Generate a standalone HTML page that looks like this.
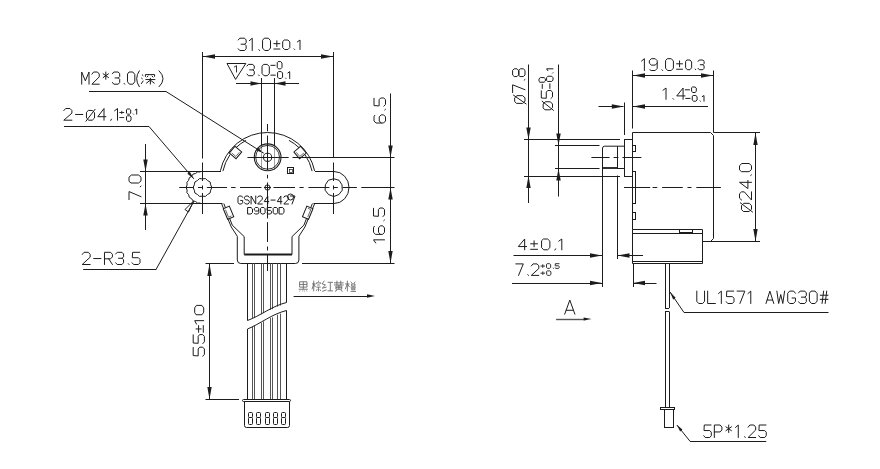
<!DOCTYPE html>
<html><head><meta charset="utf-8"><style>
html,body{margin:0;padding:0;background:#fff;}
svg{display:block;}
text{font-family:"Liberation Sans",sans-serif;stroke:#fff;stroke-width:0.45px;}
</style></head><body>
<svg width="880" height="469" viewBox="0 0 880 469">
<rect width="880" height="469" fill="#fff"/>
<line x1="202.5" y1="52" x2="202.5" y2="158.5" stroke="#1c1c1c" stroke-width="1" />
<line x1="333.5" y1="52" x2="333.5" y2="158" stroke="#1c1c1c" stroke-width="1" />
<line x1="202.5" y1="56.5" x2="333.5" y2="56.5" stroke="#1c1c1c" stroke-width="1" />
<path d="M203,56.5 L215.00,54.30 L215.00,58.70 Z" fill="#1c1c1c" stroke="none"/>
<path d="M333,56.5 L321.00,58.70 L321.00,54.30 Z" fill="#1c1c1c" stroke="none"/>
<path d="M 238.20,39.98 L 239.79,38.20 L 244.55,38.20 L 246.14,39.98 L 246.14,42.71 L 244.69,44.21 L 241.11,44.21 M 244.69,44.21 L 246.14,45.72 L 246.14,48.72 L 244.55,50.50 L 239.79,50.50 L 238.20,48.72 M 249.32,40.66 L 252.23,38.20 L 252.23,50.50 M 258.85,49.68 L 259.51,50.50 M 264.68,38.20 L 268.38,38.20 L 270.50,40.66 L 270.50,48.04 L 268.38,50.50 L 264.68,50.50 L 262.56,48.04 L 262.56,40.66 Z" fill="none" stroke="#1c1c1c" stroke-width="1" stroke-linecap="round" stroke-linejoin="round"/>
<path d="M 276.85,40.75 L 276.85,46.58 M 273.81,43.67 L 279.89,43.67 M 273.81,49.03 L 279.89,49.03" fill="none" stroke="#1c1c1c" stroke-width="1" stroke-linecap="round" stroke-linejoin="round"/>
<path d="M 284.60,40.00 L 287.91,40.00 L 289.81,41.90 L 289.81,47.60 L 287.91,49.50 L 284.60,49.50 L 282.70,47.60 L 282.70,41.90 Z M 294.08,48.87 L 294.67,49.50 M 297.39,41.90 L 300.00,40.00 L 300.00,49.50" fill="none" stroke="#1c1c1c" stroke-width="1" stroke-linecap="round" stroke-linejoin="round"/>
<path d="M227,63.5 L245.8,63.5 L235.6,79.4 Z" fill="none" stroke="#1c1c1c" stroke-width="1" />
<path d="M 234.30,66.96 L 236.50,65.70 L 236.50,72.00" fill="none" stroke="#1c1c1c" stroke-width="0.9" stroke-linecap="round" stroke-linejoin="round"/>
<path d="M 247.00,66.03 L 248.45,64.40 L 252.82,64.40 L 254.27,66.03 L 254.27,68.54 L 252.94,69.92 L 249.67,69.92 M 252.94,69.92 L 254.27,71.31 L 254.27,74.07 L 252.82,75.70 L 248.45,75.70 L 247.00,74.07 M 258.63,74.95 L 259.24,75.70 M 263.97,64.40 L 267.36,64.40 L 269.30,66.66 L 269.30,73.44 L 267.36,75.70 L 263.97,75.70 L 262.03,73.44 L 262.03,66.66 Z" fill="none" stroke="#1c1c1c" stroke-width="1" stroke-linecap="round" stroke-linejoin="round"/>
<path d="M 270.84,65.33 L 275.11,65.33 M 278.52,61.60 L 280.73,61.60 L 282.00,63.06 L 282.00,67.44 L 280.73,68.90 L 278.52,68.90 L 277.25,67.44 L 277.25,63.06 Z" fill="none" stroke="#1c1c1c" stroke-width="1" stroke-linecap="round" stroke-linejoin="round"/>
<path d="M 270.85,75.13 L 275.33,75.13 M 278.90,71.60 L 281.23,71.60 L 282.56,72.98 L 282.56,77.12 L 281.23,78.50 L 278.90,78.50 L 277.58,77.12 L 277.58,72.98 Z M 285.55,78.04 L 285.96,78.50 M 287.87,72.98 L 289.70,71.60 L 289.70,78.50" fill="none" stroke="#1c1c1c" stroke-width="1" stroke-linecap="round" stroke-linejoin="round"/>
<line x1="236" y1="83.5" x2="299" y2="83.5" stroke="#1c1c1c" stroke-width="1" />
<path d="M261.5,83.5 L250.50,85.70 L250.50,81.30 Z" fill="#1c1c1c" stroke="none"/>
<path d="M274.5,83.5 L285.50,81.30 L285.50,85.70 Z" fill="#1c1c1c" stroke="none"/>
<line x1="261.5" y1="78" x2="261.5" y2="146" stroke="#1c1c1c" stroke-width="1" />
<line x1="274.5" y1="78" x2="274.5" y2="146" stroke="#1c1c1c" stroke-width="1" />
<path d="M 81.70,84.20 L 81.70,72.00 L 85.35,80.81 L 89.01,72.00 L 89.01,84.20 M 91.93,74.17 L 93.64,72.00 L 97.53,72.00 L 99.24,74.03 L 99.24,76.88 L 91.93,84.20 L 99.24,84.20 M 105.81,72.00 L 105.81,79.32 M 103.13,73.76 L 108.49,77.56 M 108.49,73.76 L 103.13,77.56 M 112.39,73.76 L 113.85,72.00 L 118.24,72.00 L 119.70,73.76 L 119.70,76.47 L 118.36,77.96 L 115.07,77.96 M 118.36,77.96 L 119.70,79.46 L 119.70,82.44 L 118.24,84.20 L 113.85,84.20 L 112.39,82.44 M 124.08,83.39 L 124.69,84.20 M 129.44,72.00 L 132.85,72.00 L 134.80,74.44 L 134.80,81.76 L 132.85,84.20 L 129.44,84.20 L 127.49,81.76 L 127.49,74.44 Z" fill="none" stroke="#1c1c1c" stroke-width="1" stroke-linecap="round" stroke-linejoin="round"/>
<path d="M 139.30,70.83 Q 136.70,74.58 136.70,78.75 Q 136.70,82.92 139.30,86.67" fill="none" stroke="#1c1c1c" stroke-width="1" stroke-linecap="round" stroke-linejoin="round"/>
<path d="M 159.10,70.83 Q 163.00,74.58 163.00,78.75 Q 163.00,82.92 159.10,86.67" fill="none" stroke="#1c1c1c" stroke-width="1" stroke-linecap="round" stroke-linejoin="round"/>
<line x1="89" y1="91.5" x2="166" y2="91.5" stroke="#1c1c1c" stroke-width="1" />
<line x1="166" y1="91.5" x2="263.7" y2="153.2" stroke="#1c1c1c" stroke-width="1" />
<path d="M263.7,153.2 L256.08,150.28 L257.79,147.58 Z" fill="#1c1c1c" stroke="none"/>
<path d="M 63.80,110.58 L 65.69,108.50 L 70.01,108.50 L 71.90,110.45 L 71.90,113.18 L 63.80,120.20 L 71.90,120.20 M 75.54,114.48 L 82.82,114.48 M 88.76,110.45 L 92.27,110.45 L 94.56,112.66 L 94.56,117.99 L 92.27,120.20 L 88.76,120.20 L 86.47,117.99 L 86.47,112.66 Z M 85.93,121.24 L 95.10,109.28 M 104.01,120.20 L 104.01,108.50 L 97.80,116.69 L 105.90,116.69 M 111.43,119.16 L 110.75,120.46 M 114.53,110.84 L 117.50,108.50 L 117.50,120.20" fill="none" stroke="#1c1c1c" stroke-width="1" stroke-linecap="round" stroke-linejoin="round"/>
<path d="M 121.75,111.30 L 121.75,113.70 M 119.72,112.50 L 123.78,112.50" fill="none" stroke="#1c1c1c" stroke-width="0.9" stroke-linecap="round" stroke-linejoin="round"/>
<path d="M 119.72,117.54 L 123.78,117.54" fill="none" stroke="#1c1c1c" stroke-width="0.9" stroke-linecap="round" stroke-linejoin="round"/>
<path d="M 127.62,109.00 L 129.57,109.00 L 130.69,110.04 L 130.69,113.16 L 129.57,114.20 L 127.62,114.20 L 126.50,113.16 L 126.50,110.04 Z M 133.21,113.85 L 133.56,114.20 M 135.16,110.04 L 136.70,109.00 L 136.70,114.20" fill="none" stroke="#1c1c1c" stroke-width="1" stroke-linecap="round" stroke-linejoin="round"/>
<path d="M 127.70,115.80 L 129.80,115.80 L 131.00,116.90 L 131.00,120.20 L 129.80,121.30 L 127.70,121.30 L 126.50,120.20 L 126.50,116.90 Z" fill="none" stroke="#1c1c1c" stroke-width="1" stroke-linecap="round" stroke-linejoin="round"/>
<line x1="64" y1="126.5" x2="149" y2="126.5" stroke="#1c1c1c" stroke-width="1" />
<line x1="149" y1="126.5" x2="193.8" y2="178.8" stroke="#1c1c1c" stroke-width="1" />
<path d="M193.8,178.8 L187.38,173.77 L189.81,171.68 Z" fill="#1c1c1c" stroke="none"/>
<line x1="145.5" y1="144" x2="145.5" y2="230" stroke="#1c1c1c" stroke-width="1" />
<path d="M145.5,171.5 L143.30,159.50 L147.70,159.50 Z" fill="#1c1c1c" stroke="none"/>
<path d="M145.5,203.5 L147.70,215.50 L143.30,215.50 Z" fill="#1c1c1c" stroke="none"/>
<path d="M 129.00,199.60 L 129.00,191.58 L 141.00,196.66 M 140.20,186.77 L 141.00,186.10 M 129.00,180.88 L 129.00,177.14 L 131.40,175.00 L 138.60,175.00 L 141.00,177.14 L 141.00,180.88 L 138.60,183.02 L 131.40,183.02 Z" fill="none" stroke="#1c1c1c" stroke-width="1" stroke-linecap="round" stroke-linejoin="round"/>
<path d="M 82.20,254.47 L 84.06,252.30 L 88.30,252.30 L 90.15,254.33 L 90.15,257.18 L 82.20,264.50 L 90.15,264.50 M 93.73,258.54 L 100.89,258.54 M 104.47,264.50 L 104.47,252.30 L 110.57,252.30 L 112.43,254.33 L 112.43,256.91 L 110.57,258.81 L 104.47,258.81 M 108.71,258.81 L 112.43,264.50 M 115.61,254.06 L 117.20,252.30 L 121.97,252.30 L 123.56,254.06 L 123.56,256.77 L 122.10,258.26 L 118.52,258.26 M 122.10,258.26 L 123.56,259.76 L 123.56,262.74 L 121.97,264.50 L 117.20,264.50 L 115.61,262.74 M 128.33,263.69 L 129.00,264.50 M 139.73,252.30 L 132.58,252.30 L 132.31,257.72 L 138.41,257.72 L 140.00,259.35 L 140.00,262.74 L 138.41,264.50 L 133.64,264.50 L 132.05,262.74" fill="none" stroke="#1c1c1c" stroke-width="1" stroke-linecap="round" stroke-linejoin="round"/>
<line x1="83.2" y1="269.5" x2="156.3" y2="269.5" stroke="#1c1c1c" stroke-width="1" />
<line x1="156" y1="269.5" x2="193.5" y2="202" stroke="#1c1c1c" stroke-width="1" />
<path d="M193.5,201 L188.5,212 L185,209.5 Z" fill="none" stroke="#1c1c1c" stroke-width="1" />
<path d="M220.42,170.76 A48.1,48.1 0 0 1 314.62,170.93" fill="none" stroke="#1c1c1c" stroke-width="1" />
<path d="M222.90,171.12 A45.6,45.6 0 0 1 230.15,154.44" fill="none" stroke="#1c1c1c" stroke-width="1" />
<path d="M235.82,147.80 A45.6,45.6 0 0 1 246.09,140.34" fill="none" stroke="#1c1c1c" stroke-width="1" />
<path d="M288.91,140.34 A45.6,45.6 0 0 1 299.18,147.80" fill="none" stroke="#1c1c1c" stroke-width="1" />
<path d="M304.85,154.44 A45.6,45.6 0 0 1 312.10,171.12" fill="none" stroke="#1c1c1c" stroke-width="1" />
<line x1="140" y1="171.5" x2="221" y2="171.5" stroke="#1c1c1c" stroke-width="1" />
<line x1="315" y1="171.5" x2="334" y2="171.5" stroke="#1c1c1c" stroke-width="1" />
<line x1="140" y1="203.5" x2="222.5" y2="203.5" stroke="#1c1c1c" stroke-width="1" />
<line x1="313.5" y1="203.5" x2="334" y2="203.5" stroke="#1c1c1c" stroke-width="1" />
<path d="M200.33,172.03 L197.67,171.83 L195.60,173.49 L193.02,174.12 L191.56,176.35 L189.31,177.76 L188.62,180.33 L186.92,182.37 L187.08,185.03 L186.10,187.50 L187.08,189.97 L186.92,192.63 L188.62,194.67 L189.31,197.24 L191.56,198.65 L193.02,200.88 L195.60,201.51 L197.67,203.17 L200.33,202.97" fill="none" stroke="#1c1c1c" stroke-width="1"/>
<path d="M334,171.5 A15,16 0 0 1 334,203.5" fill="none" stroke="#1c1c1c" stroke-width="1" />
<path d="M202.50,178.88 L205.40,178.56 L207.57,180.53 L210.10,181.97 L210.70,184.84 L211.90,187.50 L210.70,190.16 L210.10,193.03 L207.57,194.47 L205.40,196.44 L202.50,196.12 L199.60,196.44 L197.43,194.47 L194.90,193.03 L194.30,190.16 L193.10,187.50 L194.30,184.84 L194.90,181.97 L197.43,180.53 L199.60,178.56 L202.50,178.88 Z" fill="none" stroke="#1c1c1c" stroke-width="1"/>
<path d="M333.70,178.76 L338.99,180.22 L342.01,184.80 L342.26,190.28 L338.84,194.57 L333.70,196.50 L328.56,194.57 L325.14,190.28 L325.39,184.80 L328.41,180.22 L333.70,178.76 Z" fill="none" stroke="#1c1c1c" stroke-width="1"/>
<path d="M221.5,203.5 L231.3,227 L237.3,236.3 L237.3,260" fill="none" stroke="#1c1c1c" stroke-width="1" />
<path d="M314.70000000000005,203.5 L304.90000000000003,227 L298.90000000000003,236.3 L298.90000000000003,260" fill="none" stroke="#1c1c1c" stroke-width="1" />
<path d="M223.8,203.5 L232.3,225.2 L244.2,236.6 L244.2,254.5" fill="none" stroke="#1c1c1c" stroke-width="1" />
<path d="M312.40000000000003,203.5 L303.90000000000003,225.2 L292.00000000000006,236.6 L292.00000000000006,254.5" fill="none" stroke="#1c1c1c" stroke-width="1" />
<path d="M237.3,260 Q237.3,263.5 240.8,263.5 L295.4,263.5 Q298.9,263.5 298.9,260" fill="none" stroke="#1c1c1c" stroke-width="1" />
<line x1="244.2" y1="254.5" x2="292" y2="254.5" stroke="#1c1c1c" stroke-width="2" />
<g transform="translate(235.50,152.50) rotate(40)"><rect x="-4.4" y="-4.4" width="8.8" height="8.8" fill="#fff" stroke="#1c1c1c" stroke-width="1"/><path d="M-2.6000000000000005,2.8000000000000003 L2.8000000000000003,2.8000000000000003 L2.8000000000000003,-2.6000000000000005" fill="none" stroke="#555" stroke-width="0.8"/></g>
<g transform="translate(300.10,152.50) rotate(50)"><rect x="-4.4" y="-4.4" width="8.8" height="8.8" fill="#fff" stroke="#1c1c1c" stroke-width="1"/><path d="M-2.6000000000000005,2.8000000000000003 L2.8000000000000003,2.8000000000000003 L2.8000000000000003,-2.6000000000000005" fill="none" stroke="#555" stroke-width="0.8"/></g>
<g transform="translate(228.50,212.70) rotate(67.5)"><rect x="-5.75" y="-3.3" width="11.5" height="6.6" fill="#fff" stroke="#1c1c1c" stroke-width="1"/><path d="M-3.95,1.6999999999999997 L4.15,1.6999999999999997 L4.15,-1.4999999999999998" fill="none" stroke="#555" stroke-width="0.8"/></g>
<g transform="translate(307.70,212.70) rotate(-67.5)"><rect x="-5.75" y="-3.3" width="11.5" height="6.6" fill="#fff" stroke="#1c1c1c" stroke-width="1"/><path d="M-3.95,1.6999999999999997 L4.15,1.6999999999999997 L4.15,-1.4999999999999998" fill="none" stroke="#555" stroke-width="0.8"/></g>
<line x1="261.5" y1="78" x2="261.5" y2="145" stroke="#1c1c1c" stroke-width="1" />
<line x1="274.5" y1="78" x2="274.5" y2="145" stroke="#1c1c1c" stroke-width="1" />
<line x1="261.5" y1="145" x2="261.5" y2="170" stroke="#888" stroke-width="0.8" />
<line x1="274.5" y1="145" x2="274.5" y2="170" stroke="#888" stroke-width="0.8" />
<circle cx="267.6" cy="157.3" r="13.4" fill="none" stroke="#1c1c1c" stroke-width="1.1" />
<circle cx="267.6" cy="157.3" r="11.9" fill="none" stroke="#1c1c1c" stroke-width="0.9" />
<circle cx="267.6" cy="157.3" r="4.1" fill="none" stroke="#1c1c1c" stroke-width="1" />
<line x1="247.4" y1="157.5" x2="288.7" y2="157.5" stroke="#1c1c1c" stroke-width="1" />
<line x1="292.5" y1="157.5" x2="394.5" y2="157.5" stroke="#1c1c1c" stroke-width="1" />
<line x1="267.5" y1="124" x2="267.5" y2="131.3" stroke="#1c1c1c" stroke-width="1" />
<line x1="267.5" y1="135.5" x2="267.5" y2="170" stroke="#1c1c1c" stroke-width="1" />
<line x1="267.5" y1="174.8" x2="267.5" y2="178.4" stroke="#1c1c1c" stroke-width="1" />
<line x1="267.5" y1="182.5" x2="267.5" y2="218.5" stroke="#1c1c1c" stroke-width="1" />
<line x1="267.5" y1="222.2" x2="267.5" y2="242" stroke="#1c1c1c" stroke-width="1" />
<line x1="267.5" y1="246.5" x2="267.5" y2="250.5" stroke="#1c1c1c" stroke-width="1" />
<line x1="267.5" y1="254.5" x2="267.5" y2="271" stroke="#1c1c1c" stroke-width="1" />
<line x1="179.2" y1="187.5" x2="193.8" y2="187.5" stroke="#1c1c1c" stroke-width="1" />
<line x1="198" y1="187.5" x2="202.8" y2="187.5" stroke="#1c1c1c" stroke-width="1" />
<line x1="206.9" y1="187.5" x2="227" y2="187.5" stroke="#1c1c1c" stroke-width="1" />
<line x1="231.1" y1="187.5" x2="235.6" y2="187.5" stroke="#1c1c1c" stroke-width="1" />
<line x1="240" y1="187.5" x2="261.5" y2="187.5" stroke="#1c1c1c" stroke-width="1" />
<line x1="264" y1="187.5" x2="271" y2="187.5" stroke="#1c1c1c" stroke-width="1" />
<line x1="273.5" y1="187.5" x2="295" y2="187.5" stroke="#1c1c1c" stroke-width="1" />
<line x1="299.4" y1="187.5" x2="303.7" y2="187.5" stroke="#1c1c1c" stroke-width="1" />
<line x1="308.4" y1="187.5" x2="329.4" y2="187.5" stroke="#1c1c1c" stroke-width="1" />
<line x1="333" y1="187.5" x2="337.8" y2="187.5" stroke="#1c1c1c" stroke-width="1" />
<line x1="342.6" y1="187.5" x2="356.9" y2="187.5" stroke="#1c1c1c" stroke-width="1" />
<line x1="361.3" y1="187.5" x2="394.5" y2="187.5" stroke="#1c1c1c" stroke-width="1" />
<line x1="202.5" y1="162.5" x2="202.5" y2="181" stroke="#1c1c1c" stroke-width="1" />
<line x1="202.5" y1="185.5" x2="202.5" y2="189.5" stroke="#1c1c1c" stroke-width="1" />
<line x1="202.5" y1="193" x2="202.5" y2="214" stroke="#1c1c1c" stroke-width="1" />
<line x1="333.5" y1="162.5" x2="333.5" y2="181" stroke="#1c1c1c" stroke-width="1" />
<line x1="333.5" y1="185.5" x2="333.5" y2="189.5" stroke="#1c1c1c" stroke-width="1" />
<line x1="333.5" y1="193" x2="333.5" y2="214" stroke="#1c1c1c" stroke-width="1" />
<circle cx="267.5" cy="187.5" r="2.6" fill="none" stroke="#1c1c1c" stroke-width="1" />
<rect x="287.5" y="167.5" width="6.0" height="6.0" rx="0" fill="none" stroke="#1c1c1c" stroke-width="1" />
<rect x="289.5" y="169.5" width="3.0" height="3.0" rx="0" fill="none" stroke="#1c1c1c" stroke-width="0.7" />
<circle cx="290.5" cy="197" r="3" fill="none" stroke="#1c1c1c" stroke-width="1" />
<path d="M 242.67,197.42 L 241.58,196.00 L 239.17,196.00 L 238.00,197.42 L 238.00,202.58 L 239.17,204.00 L 241.50,204.00 L 242.67,202.58 L 242.67,200.44 L 240.65,200.44 M 249.21,197.33 L 248.12,196.00 L 245.63,196.00 L 244.54,197.33 L 244.54,198.76 L 245.63,199.91 L 248.12,199.91 L 249.21,201.16 L 249.21,202.67 L 248.12,204.00 L 245.63,204.00 L 244.54,202.67 M 251.08,204.00 L 251.08,196.00 L 255.75,204.00 L 255.75,196.00 M 257.62,197.42 L 258.71,196.00 L 261.20,196.00 L 262.30,197.33 L 262.30,199.20 L 257.62,204.00 L 262.30,204.00 M 267.75,204.00 L 267.75,196.00 L 264.16,201.60 L 268.84,201.60 M 270.94,200.09 L 275.14,200.09 M 280.83,204.00 L 280.83,196.00 L 277.25,201.60 L 281.92,201.60 M 283.79,197.42 L 284.88,196.00 L 287.37,196.00 L 288.46,197.33 L 288.46,199.20 L 283.79,204.00 L 288.46,204.00 M 290.33,196.00 L 295.00,196.00 L 292.04,204.00" fill="none" stroke="#1c1c1c" stroke-width="1" stroke-linecap="round" stroke-linejoin="round"/>
<path d="M 248.00,207.50 L 251.00,207.50 L 252.50,208.94 L 252.50,212.56 L 251.00,214.00 L 248.00,214.00 Z M 254.60,213.57 L 255.35,214.00 L 257.68,214.00 L 258.80,212.84 L 258.80,208.58 L 257.68,207.50 L 255.43,207.50 L 254.30,208.58 L 254.30,209.96 L 255.43,211.04 L 257.68,211.04 L 258.80,209.96 M 261.80,207.50 L 263.90,207.50 L 265.10,208.80 L 265.10,212.70 L 263.90,214.00 L 261.80,214.00 L 260.60,212.70 L 260.60,208.80 Z M 271.25,207.50 L 267.20,207.50 L 267.05,210.39 L 270.50,210.39 L 271.40,211.26 L 271.40,213.06 L 270.50,214.00 L 267.80,214.00 L 266.90,213.06 M 274.40,207.50 L 276.50,207.50 L 277.70,208.80 L 277.70,212.70 L 276.50,214.00 L 274.40,214.00 L 273.20,212.70 L 273.20,208.80 Z M 279.50,207.50 L 282.50,207.50 L 284.00,208.94 L 284.00,212.56 L 282.50,214.00 L 279.50,214.00 Z" fill="none" stroke="#1c1c1c" stroke-width="1" stroke-linecap="round" stroke-linejoin="round"/>
<line x1="390.5" y1="93.5" x2="390.5" y2="263" stroke="#1c1c1c" stroke-width="1" />
<path d="M390.5,157.5 L388.30,145.50 L392.70,145.50 Z" fill="#1c1c1c" stroke="none"/>
<path d="M390.5,187.5 L392.70,199.50 L388.30,199.50 Z" fill="#1c1c1c" stroke="none"/>
<path d="M390.5,263 L388.30,251.00 L392.70,251.00 Z" fill="#1c1c1c" stroke="none"/>
<line x1="302" y1="263.5" x2="394.5" y2="263.5" stroke="#1c1c1c" stroke-width="1" />
<line x1="205.5" y1="263.5" x2="234" y2="263.5" stroke="#1c1c1c" stroke-width="1" />
<path d="M 374.77,115.39 L 374.00,116.75 L 374.00,120.96 L 376.04,123.00 L 383.58,123.00 L 385.50,120.96 L 385.50,116.89 L 383.58,114.85 L 381.16,114.85 L 379.24,116.89 L 379.24,120.96 L 381.16,123.00 M 384.73,109.96 L 385.50,109.28 M 374.00,98.27 L 374.00,105.61 L 379.11,105.88 L 379.11,99.63 L 380.64,98.00 L 383.84,98.00 L 385.50,99.63 L 385.50,104.52 L 383.84,106.15" fill="none" stroke="#1c1c1c" stroke-width="1" stroke-linecap="round" stroke-linejoin="round"/>
<path d="M 375.70,243.00 L 373.50,239.84 L 384.50,239.84 M 374.23,226.36 L 373.50,227.80 L 373.50,232.24 L 375.46,234.39 L 382.67,234.39 L 384.50,232.24 L 384.50,227.94 L 382.67,225.79 L 380.34,225.79 L 378.51,227.94 L 378.51,232.24 L 380.34,234.39 M 383.77,220.62 L 384.50,219.91 M 373.50,208.29 L 373.50,216.03 L 378.39,216.32 L 378.39,209.72 L 379.86,208.00 L 382.91,208.00 L 384.50,209.72 L 384.50,214.89 L 382.91,216.61" fill="none" stroke="#1c1c1c" stroke-width="1" stroke-linecap="round" stroke-linejoin="round"/>
<line x1="209.5" y1="264" x2="209.5" y2="399" stroke="#1c1c1c" stroke-width="1" />
<path d="M209.5,264 L211.70,276.00 L207.30,276.00 Z" fill="#1c1c1c" stroke="none"/>
<path d="M209.5,399 L207.30,387.00 L211.70,387.00 Z" fill="#1c1c1c" stroke="none"/>
<line x1="205.5" y1="399.5" x2="239" y2="399.5" stroke="#1c1c1c" stroke-width="1" />
<path d="M 193.20,347.50 L 193.20,355.60 L 198.18,355.90 L 198.18,349.00 L 199.67,347.20 L 202.78,347.20 L 204.40,349.00 L 204.40,354.40 L 202.78,356.20 M 193.20,334.90 L 193.20,343.00 L 198.18,343.30 L 198.18,336.40 L 199.67,334.60 L 202.78,334.60 L 204.40,336.40 L 204.40,341.80 L 202.78,343.60" fill="none" stroke="#1c1c1c" stroke-width="1" stroke-linecap="round" stroke-linejoin="round"/>
<path d="M 196.03,328.95 L 201.14,328.95 M 198.59,332.32 L 198.59,325.57 M 203.29,332.32 L 203.29,325.57" fill="none" stroke="#1c1c1c" stroke-width="1" stroke-linecap="round" stroke-linejoin="round"/>
<path d="M 196.50,324.10 L 194.70,320.67 L 203.70,320.67 M 194.70,312.26 L 194.70,307.89 L 196.50,305.40 L 201.90,305.40 L 203.70,307.89 L 203.70,312.26 L 201.90,314.75 L 196.50,314.75 Z" fill="none" stroke="#1c1c1c" stroke-width="1" stroke-linecap="round" stroke-linejoin="round"/>
<line x1="247.5" y1="263.5" x2="247.5" y2="320.5" stroke="#1c1c1c" stroke-width="1" />
<line x1="247.5" y1="329.0" x2="247.5" y2="399.5" stroke="#1c1c1c" stroke-width="1" />
<line x1="252.5" y1="263.5" x2="252.5" y2="318.1923076923077" stroke="#555" stroke-width="1" />
<line x1="252.5" y1="326.62820512820514" x2="252.5" y2="399.5" stroke="#555" stroke-width="1" />
<line x1="254.5" y1="263.5" x2="254.5" y2="317.2692307692308" stroke="#555" stroke-width="1" />
<line x1="254.5" y1="325.6794871794872" x2="254.5" y2="399.5" stroke="#555" stroke-width="1" />
<line x1="261.5" y1="263.5" x2="261.5" y2="314.2692307692308" stroke="#555" stroke-width="1" />
<line x1="261.5" y1="322.59615384615387" x2="261.5" y2="399.5" stroke="#555" stroke-width="1" />
<line x1="263.5" y1="263.5" x2="263.5" y2="313.11538461538464" stroke="#555" stroke-width="1" />
<line x1="263.5" y1="321.4102564102564" x2="263.5" y2="399.5" stroke="#555" stroke-width="1" />
<line x1="270.5" y1="263.5" x2="270.5" y2="309.88461538461536" stroke="#555" stroke-width="1" />
<line x1="270.5" y1="318.0897435897436" x2="270.5" y2="399.5" stroke="#555" stroke-width="1" />
<line x1="272.5" y1="263.5" x2="272.5" y2="309.1923076923077" stroke="#555" stroke-width="1" />
<line x1="272.5" y1="317.37820512820514" x2="272.5" y2="399.5" stroke="#555" stroke-width="1" />
<line x1="277.5" y1="263.5" x2="277.5" y2="306.65384615384613" stroke="#555" stroke-width="1" />
<line x1="277.5" y1="314.7692307692308" x2="277.5" y2="399.5" stroke="#555" stroke-width="1" />
<line x1="280.5" y1="263.5" x2="280.5" y2="305.5" stroke="#555" stroke-width="1" />
<line x1="280.5" y1="313.5833333333333" x2="280.5" y2="399.5" stroke="#555" stroke-width="1" />
<line x1="286.5" y1="263.5" x2="286.5" y2="302.5" stroke="#1c1c1c" stroke-width="1" />
<line x1="286.5" y1="310.5" x2="286.5" y2="399.5" stroke="#1c1c1c" stroke-width="1" />
<path d="M247.5,320.5 C260,316 272,306 286.5,302.5" fill="none" stroke="#1c1c1c" stroke-width="1" />
<path d="M247.5,329 C260,324 272,314 286.5,310.5" fill="none" stroke="#1c1c1c" stroke-width="1" />
<rect x="242.5" y="399.5" width="48.0" height="2.0" rx="1" fill="none" stroke="#1c1c1c" stroke-width="1" />
<path d="M244.5,401.7 L244.5,425.5 Q244.5,427.5 246.5,427.5 L287.5,427.5 Q289.5,427.5 289.5,425.5 L289.5,401.7" fill="none" stroke="#1c1c1c" stroke-width="1" />
<rect x="248.5" y="412.5" width="4.0" height="5.0" rx="1" fill="none" stroke="#1c1c1c" stroke-width="1" />
<rect x="248.5" y="417.5" width="4.0" height="7.0" rx="1" fill="none" stroke="#1c1c1c" stroke-width="1" />
<rect x="256.5" y="412.5" width="4.0" height="5.0" rx="1" fill="none" stroke="#1c1c1c" stroke-width="1" />
<rect x="256.5" y="417.5" width="4.0" height="7.0" rx="1" fill="none" stroke="#1c1c1c" stroke-width="1" />
<rect x="265.5" y="412.5" width="4.0" height="5.0" rx="1" fill="none" stroke="#1c1c1c" stroke-width="1" />
<rect x="265.5" y="417.5" width="4.0" height="7.0" rx="1" fill="none" stroke="#1c1c1c" stroke-width="1" />
<rect x="273.5" y="412.5" width="4.0" height="5.0" rx="1" fill="none" stroke="#1c1c1c" stroke-width="1" />
<rect x="273.5" y="417.5" width="4.0" height="7.0" rx="1" fill="none" stroke="#1c1c1c" stroke-width="1" />
<rect x="281.5" y="412.5" width="4.0" height="5.0" rx="1" fill="none" stroke="#1c1c1c" stroke-width="1" />
<rect x="281.5" y="417.5" width="4.0" height="7.0" rx="1" fill="none" stroke="#1c1c1c" stroke-width="1" />
<path d="M 299.62,281.77 L 306.98,281.77 L 306.98,287.12 L 299.62,287.12 Z M 303.30,281.77 L 303.30,289.26 M 299.62,284.44 L 306.98,284.44 M 298.70,289.26 L 307.90,289.26 M 300.08,290.54 L 299.62,291.40 M 302.38,290.54 L 302.66,291.40 M 304.22,290.54 L 304.50,291.40 M 306.52,290.54 L 306.98,291.40" fill="none" stroke="#6a6a6a" stroke-width="0.9"/>
<path d="M 312.00,283.91 L 315.48,283.91 M 313.74,280.70 L 313.74,291.40 M 313.74,283.91 L 312.00,289.26 M 313.74,283.91 L 315.48,287.12 M 318.52,280.70 L 318.52,281.77 M 316.35,283.91 L 316.35,282.84 L 320.70,282.84 L 320.70,283.91 M 317.22,284.98 L 319.83,284.98 M 316.35,287.12 L 320.70,287.12 M 318.52,287.12 L 318.52,291.40 M 317.22,289.26 L 316.35,290.87 M 319.83,289.26 L 320.70,290.87" fill="none" stroke="#6a6a6a" stroke-width="0.9"/>
<path d="M 324.36,280.70 L 322.20,283.91 L 325.44,284.98 L 322.20,288.19 L 326.52,287.12 M 322.20,291.40 L 326.52,289.79 M 327.60,282.31 L 333.00,282.31 M 330.30,282.31 L 330.30,290.87 M 327.60,290.87 L 333.00,290.87" fill="none" stroke="#6a6a6a" stroke-width="0.9"/>
<path d="M 334.00,282.84 L 343.70,282.84 M 336.91,280.70 L 336.91,284.98 M 340.79,280.70 L 340.79,284.98 M 334.00,284.98 L 343.70,284.98 M 335.94,286.05 L 341.76,286.05 L 341.76,289.26 L 335.94,289.26 Z M 335.94,287.65 L 341.76,287.65 M 338.85,284.98 L 338.85,289.26 M 336.91,290.33 L 334.97,291.40 M 340.79,290.33 L 342.73,291.40" fill="none" stroke="#6a6a6a" stroke-width="0.9"/>
<path d="M 345.20,283.91 L 349.52,283.91 M 347.36,280.70 L 347.36,291.40 M 347.36,283.91 L 345.20,289.26 M 347.36,283.91 L 349.52,287.12 M 350.60,281.77 L 352.22,283.38 M 355.46,281.77 L 353.84,283.38 M 351.68,283.91 L 354.92,283.91 L 354.92,286.05 L 351.68,286.05 Z M 350.60,287.12 L 356.00,287.12 M 351.68,288.19 L 354.92,288.19 L 354.92,289.79 L 351.68,289.79 Z M 350.60,291.40 L 356.00,291.40" fill="none" stroke="#6a6a6a" stroke-width="0.9"/>
<path d="M 141.91,74.60 L 143.31,75.70 M 141.20,77.90 L 142.61,79.00 M 141.20,83.95 L 143.31,80.65 M 145.43,76.80 L 145.43,74.60 L 154.59,74.60 L 154.59,76.80 M 148.25,75.70 L 146.84,77.35 M 151.77,75.70 L 153.19,77.35 M 145.43,79.55 L 155.30,79.55 M 150.36,77.90 L 150.36,84.50 M 150.36,80.10 L 146.13,83.40 M 150.36,80.10 L 154.59,83.40" fill="none" stroke="#1c1c1c" stroke-width="1"/>
<line x1="293.6" y1="296.5" x2="370" y2="296.5" stroke="#1c1c1c" stroke-width="1" />
<path d="M375,296 L367.00,297.80 L367.00,294.20 Z" fill="#1c1c1c" stroke="none"/>
<line x1="632.5" y1="70.5" x2="632.5" y2="128.5" stroke="#1c1c1c" stroke-width="1" />
<line x1="713.5" y1="70.5" x2="713.5" y2="132.5" stroke="#1c1c1c" stroke-width="1" />
<line x1="632.5" y1="75.5" x2="713.5" y2="75.5" stroke="#1c1c1c" stroke-width="1" />
<path d="M633,75.5 L645.00,73.30 L645.00,77.70 Z" fill="#1c1c1c" stroke="none"/>
<path d="M713,75.5 L701.00,77.70 L701.00,73.30 Z" fill="#1c1c1c" stroke="none"/>
<path d="M 641.50,61.06 L 644.38,58.70 L 644.38,70.50 M 649.87,69.71 L 651.17,70.50 L 655.23,70.50 L 657.19,68.40 L 657.19,60.67 L 655.23,58.70 L 651.31,58.70 L 649.34,60.67 L 649.34,63.16 L 651.31,65.12 L 655.23,65.12 L 657.19,63.16 M 661.90,69.71 L 662.55,70.50 M 667.65,58.70 L 671.31,58.70 L 673.40,61.06 L 673.40,68.14 L 671.31,70.50 L 667.65,70.50 L 665.56,68.14 L 665.56,61.06 Z" fill="none" stroke="#1c1c1c" stroke-width="1" stroke-linecap="round" stroke-linejoin="round"/>
<path d="M 679.55,60.87 L 679.55,66.76 M 676.59,63.81 L 682.51,63.81 M 676.59,69.23 L 682.51,69.23" fill="none" stroke="#1c1c1c" stroke-width="1" stroke-linecap="round" stroke-linejoin="round"/>
<path d="M 687.21,60.00 L 690.02,60.00 L 691.63,61.94 L 691.63,67.76 L 690.02,69.70 L 687.21,69.70 L 685.60,67.76 L 685.60,61.94 Z M 695.25,69.05 L 695.75,69.70 M 698.07,61.40 L 699.27,60.00 L 702.89,60.00 L 704.10,61.40 L 704.10,63.56 L 702.99,64.74 L 700.28,64.74 M 702.99,64.74 L 704.10,65.93 L 704.10,68.30 L 702.89,69.70 L 699.27,69.70 L 698.07,68.30" fill="none" stroke="#1c1c1c" stroke-width="1" stroke-linecap="round" stroke-linejoin="round"/>
<line x1="598.5" y1="106.5" x2="623.5" y2="106.5" stroke="#1c1c1c" stroke-width="1" />
<path d="M623.8,106.5 L611.80,108.70 L611.80,104.30 Z" fill="#1c1c1c" stroke="none"/>
<line x1="633" y1="106.5" x2="708" y2="106.5" stroke="#1c1c1c" stroke-width="1" />
<path d="M633,106.5 L645.00,104.30 L645.00,108.70 Z" fill="#1c1c1c" stroke="none"/>
<line x1="624.5" y1="102.5" x2="624.5" y2="135" stroke="#1c1c1c" stroke-width="1" />
<path d="M 663.00,90.26 L 666.02,88.00 L 666.02,99.30 M 672.90,98.55 L 673.59,99.30 M 683.08,99.30 L 683.08,88.00 L 676.75,95.91 L 685.00,95.91" fill="none" stroke="#1c1c1c" stroke-width="1" stroke-linecap="round" stroke-linejoin="round"/>
<path d="M 685.24,89.81 L 689.47,89.81 M 692.85,87.00 L 695.04,87.00 L 696.30,88.10 L 696.30,91.40 L 695.04,92.50 L 692.85,92.50 L 691.59,91.40 L 691.59,88.10 Z" fill="none" stroke="#1c1c1c" stroke-width="1" stroke-linecap="round" stroke-linejoin="round"/>
<path d="M 685.74,98.41 L 690.08,98.41 M 693.54,95.50 L 695.80,95.50 L 697.08,96.64 L 697.08,100.06 L 695.80,101.20 L 693.54,101.20 L 692.26,100.06 L 692.26,96.64 Z M 699.98,100.82 L 700.38,101.20 M 702.23,96.64 L 704.00,95.50 L 704.00,101.20" fill="none" stroke="#1c1c1c" stroke-width="1" stroke-linecap="round" stroke-linejoin="round"/>
<line x1="528.5" y1="64.5" x2="528.5" y2="203" stroke="#1c1c1c" stroke-width="1" />
<path d="M528.5,139.5 L526.30,127.50 L530.70,127.50 Z" fill="#1c1c1c" stroke="none"/>
<path d="M528.5,176 L530.70,188.00 L526.30,188.00 Z" fill="#1c1c1c" stroke="none"/>
<line x1="524" y1="139.5" x2="620" y2="139.5" stroke="#1c1c1c" stroke-width="1" />
<line x1="524" y1="176.5" x2="620" y2="176.5" stroke="#1c1c1c" stroke-width="1" />
<path d="M 514.67,101.21 L 514.67,97.85 L 517.01,95.65 L 522.66,95.65 L 525.00,97.85 L 525.00,101.21 L 522.66,103.40 L 517.01,103.40 Z M 526.10,103.92 L 513.43,95.14 M 512.60,92.56 L 512.60,84.81 L 525.00,89.71 M 524.17,80.16 L 525.00,79.52 M 518.66,74.87 L 517.01,76.55 L 514.25,76.55 L 512.60,75.00 L 512.60,70.35 L 514.25,68.80 L 517.01,68.80 L 518.66,70.48 Z M 518.66,74.87 L 518.66,70.48 L 520.45,68.80 L 523.35,68.80 L 525.00,70.35 L 525.00,75.00 L 523.35,76.55 L 520.45,76.55 Z" fill="none" stroke="#1c1c1c" stroke-width="1" stroke-linecap="round" stroke-linejoin="round"/>
<line x1="558.5" y1="64.5" x2="558.5" y2="196.5" stroke="#1c1c1c" stroke-width="1" />
<path d="M558.5,145.5 L556.30,133.50 L560.70,133.50 Z" fill="#1c1c1c" stroke="none"/>
<path d="M558.5,168.5 L560.70,180.50 L556.30,180.50 Z" fill="#1c1c1c" stroke="none"/>
<line x1="555" y1="145.5" x2="599.5" y2="145.5" stroke="#1c1c1c" stroke-width="1" />
<line x1="555" y1="168.5" x2="599.5" y2="168.5" stroke="#1c1c1c" stroke-width="1" />
<path d="M 543.17,107.52 L 543.17,104.04 L 545.28,101.76 L 550.38,101.76 L 552.50,104.04 L 552.50,107.52 L 550.38,109.80 L 545.28,109.80 Z M 553.50,110.34 L 542.05,101.22 M 541.30,90.77 L 541.30,98.01 L 546.28,98.27 L 546.28,92.11 L 547.77,90.50 L 550.88,90.50 L 552.50,92.11 L 552.50,96.93 L 550.88,98.54" fill="none" stroke="#1c1c1c" stroke-width="1" stroke-linecap="round" stroke-linejoin="round"/>
<path d="M 542.27,88.47 L 542.27,84.31 M 539.00,80.99 L 539.00,78.83 L 540.28,77.60 L 544.12,77.60 L 545.40,78.83 L 545.40,80.99 L 544.12,82.22 L 540.28,82.22 Z" fill="none" stroke="#1c1c1c" stroke-width="1" stroke-linecap="round" stroke-linejoin="round"/>
<path d="M 549.87,88.44 L 549.87,83.77 M 546.60,80.05 L 546.60,77.63 L 547.88,76.24 L 551.72,76.24 L 553.00,77.63 L 553.00,80.05 L 551.72,81.43 L 547.88,81.43 Z M 552.57,73.13 L 553.00,72.69 M 547.88,70.70 L 546.60,68.80 L 553.00,68.80" fill="none" stroke="#1c1c1c" stroke-width="1" stroke-linecap="round" stroke-linejoin="round"/>
<path d="M632.5,229.5 L632.5,132.5 L710.5,132.5 L713.5,135.5 L713.5,238.5 L710.5,241.5 L702.5,241.5" fill="none" stroke="#1c1c1c" stroke-width="1" />
<line x1="713.5" y1="132.5" x2="760" y2="132.5" stroke="#1c1c1c" stroke-width="1" />
<line x1="704" y1="241.5" x2="760" y2="241.5" stroke="#1c1c1c" stroke-width="1" />
<line x1="755.5" y1="132.5" x2="755.5" y2="241.5" stroke="#1c1c1c" stroke-width="1" />
<path d="M755.5,133 L757.70,145.00 L753.30,145.00 Z" fill="#1c1c1c" stroke="none"/>
<path d="M755.5,241 L753.30,229.00 L757.70,229.00 Z" fill="#1c1c1c" stroke="none"/>
<path d="M 741.50,209.18 L 741.50,205.64 L 743.77,203.32 L 749.23,203.32 L 751.50,205.64 L 751.50,209.18 L 749.23,211.50 L 743.77,211.50 Z M 752.57,212.05 L 740.30,202.77 M 741.63,200.05 L 739.50,198.14 L 739.50,193.77 L 741.50,191.86 L 744.30,191.86 L 751.50,200.05 L 751.50,191.86 M 751.50,182.32 L 739.50,182.32 L 747.90,188.59 L 747.90,180.41 M 750.70,175.50 L 751.50,174.82 M 739.50,169.50 L 739.50,165.68 L 741.90,163.50 L 749.10,163.50 L 751.50,165.68 L 751.50,169.50 L 749.10,171.68 L 741.90,171.68 Z" fill="none" stroke="#1c1c1c" stroke-width="1" stroke-linecap="round" stroke-linejoin="round"/>
<rect x="624.5" y="139.5" width="8.0" height="37.0" rx="0" fill="none" stroke="#1c1c1c" stroke-width="1" />
<path d="M604.5,146.2 L624.5,146.2 M602.5,148.5 Q602.5,146.2 604.5,146.2" fill="none" stroke="#1c1c1c" stroke-width="1" />
<line x1="602.5" y1="148" x2="602.5" y2="287" stroke="#1c1c1c" stroke-width="1" />
<line x1="602.5" y1="168" x2="617" y2="168" stroke="#1c1c1c" stroke-width="1.8" />
<line x1="617" y1="168.5" x2="624.5" y2="168.5" stroke="#1c1c1c" stroke-width="1" />
<line x1="617.5" y1="146.2" x2="617.5" y2="168" stroke="#1c1c1c" stroke-width="1" />
<line x1="617.5" y1="175.5" x2="617.5" y2="259" stroke="#1c1c1c" stroke-width="1" />
<rect x="632.5" y="145.5" width="3.0" height="6.0" rx="0" fill="none" stroke="#1c1c1c" stroke-width="1" />
<rect x="632.5" y="171.5" width="3.0" height="32.0" rx="0" fill="none" stroke="#1c1c1c" stroke-width="1" />
<rect x="632.5" y="212.5" width="3.0" height="7.0" rx="0" fill="none" stroke="#1c1c1c" stroke-width="1" />
<line x1="591.4" y1="157.5" x2="609.6" y2="157.5" stroke="#1c1c1c" stroke-width="1" />
<line x1="613.6" y1="157.5" x2="618.4" y2="157.5" stroke="#1c1c1c" stroke-width="1" />
<line x1="622.4" y1="157.5" x2="641.4" y2="157.5" stroke="#1c1c1c" stroke-width="1" />
<line x1="624" y1="187.5" x2="650.2" y2="187.5" stroke="#1c1c1c" stroke-width="1" />
<line x1="652.6" y1="187.5" x2="657.3" y2="187.5" stroke="#1c1c1c" stroke-width="1" />
<line x1="662.1" y1="187.5" x2="682.8" y2="187.5" stroke="#1c1c1c" stroke-width="1" />
<line x1="687.5" y1="187.5" x2="691.5" y2="187.5" stroke="#1c1c1c" stroke-width="1" />
<line x1="696.3" y1="187.5" x2="720.9" y2="187.5" stroke="#1c1c1c" stroke-width="1" />
<path d="M632.5,229.5 L702.5,229.5 L702.5,263.5 L632.5,263.5 Z" fill="none" stroke="#1c1c1c" stroke-width="1" />
<line x1="633" y1="233.5" x2="702.5" y2="233.5" stroke="#1c1c1c" stroke-width="1" />
<line x1="633" y1="261.5" x2="702.5" y2="261.5" stroke="#1c1c1c" stroke-width="1" />
<rect x="679.5" y="229.5" width="13.0" height="3.0" rx="0" fill="none" stroke="#1c1c1c" stroke-width="1" />
<line x1="633.5" y1="263.5" x2="633.5" y2="287" stroke="#1c1c1c" stroke-width="1" />
<path d="M 524.67,249.80 L 524.67,239.00 L 518.30,246.56 L 526.61,246.56 M 534.09,240.80 L 534.09,246.80 M 530.63,243.80 L 537.56,243.80 M 530.63,249.32 L 537.56,249.32 M 543.79,239.00 L 547.67,239.00 L 549.89,241.16 L 549.89,247.64 L 547.67,249.80 L 543.79,249.80 L 541.57,247.64 L 541.57,241.16 Z M 555.57,248.84 L 554.87,250.04 M 558.75,241.16 L 561.80,239.00 L 561.80,249.80" fill="none" stroke="#1c1c1c" stroke-width="1" stroke-linecap="round" stroke-linejoin="round"/>
<line x1="513.5" y1="255.5" x2="602" y2="255.5" stroke="#1c1c1c" stroke-width="1" />
<path d="M602,255.5 L590.00,257.70 L590.00,253.30 Z" fill="#1c1c1c" stroke="none"/>
<line x1="617.5" y1="255.5" x2="643" y2="255.5" stroke="#1c1c1c" stroke-width="1" />
<path d="M617.5,255.5 L629.50,253.30 L629.50,257.70 Z" fill="#1c1c1c" stroke="none"/>
<path d="M 515.80,263.90 L 523.30,263.90 L 518.55,275.40 M 527.80,274.63 L 528.42,275.40 M 531.30,265.94 L 533.05,263.90 L 537.05,263.90 L 538.80,265.82 L 538.80,268.50 L 531.30,275.40 L 538.80,275.40" fill="none" stroke="#1c1c1c" stroke-width="1" stroke-linecap="round" stroke-linejoin="round"/>
<path d="M 542.77,264.64 L 542.77,267.46 M 540.91,266.05 L 544.63,266.05 M 547.60,263.70 L 549.54,263.70 L 550.64,264.64 L 550.64,267.46 L 549.54,268.40 L 547.60,268.40 L 546.50,267.46 L 546.50,264.64 Z M 553.13,268.09 L 553.47,268.40 M 559.06,263.70 L 555.33,263.70 L 555.20,265.79 L 558.37,265.79 L 559.20,266.42 L 559.20,267.72 L 558.37,268.40 L 555.89,268.40 L 555.06,267.72" fill="none" stroke="#1c1c1c" stroke-width="0.9" stroke-linecap="round" stroke-linejoin="round"/>
<path d="M 542.83,271.80 L 542.83,274.50 M 540.91,273.15 L 544.74,273.15 M 547.78,270.90 L 549.77,270.90 L 550.90,271.80 L 550.90,274.50 L 549.77,275.40 L 547.78,275.40 L 546.65,274.50 L 546.65,271.80 Z" fill="none" stroke="#1c1c1c" stroke-width="0.9" stroke-linecap="round" stroke-linejoin="round"/>
<line x1="512" y1="283.5" x2="602" y2="283.5" stroke="#1c1c1c" stroke-width="1" />
<path d="M602,283 L590.00,285.20 L590.00,280.80 Z" fill="#1c1c1c" stroke="none"/>
<line x1="633" y1="283.5" x2="656.5" y2="283.5" stroke="#1c1c1c" stroke-width="1" />
<path d="M633,283 L645.00,280.80 L645.00,285.20 Z" fill="#1c1c1c" stroke="none"/>
<line x1="665.5" y1="263.5" x2="665.5" y2="308" stroke="#1c1c1c" stroke-width="1" />
<line x1="669.5" y1="263.5" x2="669.5" y2="308" stroke="#1c1c1c" stroke-width="1" />
<line x1="665.5" y1="311.5" x2="665.5" y2="408" stroke="#1c1c1c" stroke-width="1" />
<line x1="669.5" y1="311.5" x2="669.5" y2="408" stroke="#1c1c1c" stroke-width="1" />
<line x1="665" y1="311.5" x2="669" y2="311.5" stroke="#1c1c1c" stroke-width="1" />
<line x1="665" y1="308.5" x2="669" y2="308.5" stroke="#1c1c1c" stroke-width="1" />
<rect x="660.5" y="407.5" width="14.0" height="2.0" rx="0" fill="none" stroke="#1c1c1c" stroke-width="1" />
<rect x="664.5" y="409.5" width="9.0" height="18.0" rx="0" fill="none" stroke="#1c1c1c" stroke-width="1" />
<path d="M 696.80,291.10 L 696.80,301.30 L 698.74,303.50 L 702.61,303.50 L 704.55,301.30 L 704.55,291.10 M 707.65,291.10 L 707.65,303.50 L 715.40,303.50 M 718.49,293.58 L 721.34,291.10 L 721.34,303.50 M 733.73,291.10 L 726.76,291.10 L 726.50,296.61 L 732.44,296.61 L 733.99,298.26 L 733.99,301.71 L 732.44,303.50 L 727.79,303.50 L 726.24,301.71 M 737.09,291.10 L 744.84,291.10 L 739.93,303.50 M 747.94,293.58 L 750.78,291.10 L 750.78,303.50 M 766.02,303.50 L 769.89,291.10 L 773.76,303.50 M 767.18,300.06 L 772.60,300.06 M 776.86,291.10 L 778.67,303.50 L 780.74,294.54 L 782.80,303.50 L 784.61,291.10 M 795.46,293.30 L 793.65,291.10 L 789.65,291.10 L 787.71,293.30 L 787.71,301.30 L 789.65,303.50 L 793.52,303.50 L 795.46,301.30 L 795.46,297.99 L 792.10,297.99 M 798.56,292.89 L 800.11,291.10 L 804.76,291.10 L 806.31,292.89 L 806.31,295.65 L 804.89,297.16 L 801.40,297.16 M 804.89,297.16 L 806.31,298.68 L 806.31,301.71 L 804.76,303.50 L 800.11,303.50 L 798.56,301.71 M 811.47,291.10 L 815.09,291.10 L 817.15,293.58 L 817.15,301.02 L 815.09,303.50 L 811.47,303.50 L 809.40,301.02 L 809.40,293.58 Z M 823.61,291.10 L 822.06,303.50 M 826.71,291.10 L 825.16,303.50 M 820.25,295.23 L 828.00,295.23 M 820.25,299.37 L 828.00,299.37" fill="none" stroke="#1c1c1c" stroke-width="1" stroke-linecap="round" stroke-linejoin="round"/>
<line x1="684" y1="312.5" x2="828.5" y2="312.5" stroke="#1c1c1c" stroke-width="1" />
<line x1="670" y1="292" x2="684" y2="312.5" stroke="#1c1c1c" stroke-width="1" />
<path d="M670,292 L675.67,297.84 L673.17,299.50 Z" fill="#1c1c1c" stroke="none"/>
<path d="M 711.06,425.00 L 704.25,425.00 L 704.00,430.56 L 709.80,430.56 L 711.31,432.22 L 711.31,435.69 L 709.80,437.50 L 705.26,437.50 L 703.75,435.69 M 714.33,437.50 L 714.33,425.00 L 720.13,425.00 L 721.90,427.08 L 721.90,430.00 L 720.13,431.94 L 714.33,431.94 M 728.70,425.00 L 728.70,432.50 M 725.93,426.81 L 731.47,430.69 M 731.47,426.81 L 725.93,430.69 M 735.50,427.50 L 738.28,425.00 L 738.28,437.50 M 744.58,436.67 L 745.21,437.50 M 748.10,427.22 L 749.87,425.00 L 753.90,425.00 L 755.67,427.08 L 755.67,430.00 L 748.10,437.50 L 755.67,437.50 M 766.00,425.00 L 759.19,425.00 L 758.94,430.56 L 764.74,430.56 L 766.25,432.22 L 766.25,435.69 L 764.74,437.50 L 760.20,437.50 L 758.69,435.69" fill="none" stroke="#1c1c1c" stroke-width="1" stroke-linecap="round" stroke-linejoin="round"/>
<line x1="690" y1="441.5" x2="766.25" y2="441.5" stroke="#1c1c1c" stroke-width="1" />
<line x1="676.9" y1="425" x2="690" y2="441.25" stroke="#1c1c1c" stroke-width="1" />
<path d="M676.9,425 L682.46,429.51 L680.13,431.39 Z" fill="#1c1c1c" stroke="none"/>
<path d="M 564.70,314.20 L 569.80,300.10 L 574.90,314.20 M 566.23,310.28 L 573.37,310.28" fill="none" stroke="#1c1c1c" stroke-width="1" stroke-linecap="round" stroke-linejoin="round"/>
<line x1="556.1" y1="319.5" x2="586" y2="319.5" stroke="#555" stroke-width="1.4" />
<path d="M591.6,319 L583.60,320.60 L583.60,317.40 Z" fill="#1c1c1c" stroke="none"/>
</svg></body></html>
